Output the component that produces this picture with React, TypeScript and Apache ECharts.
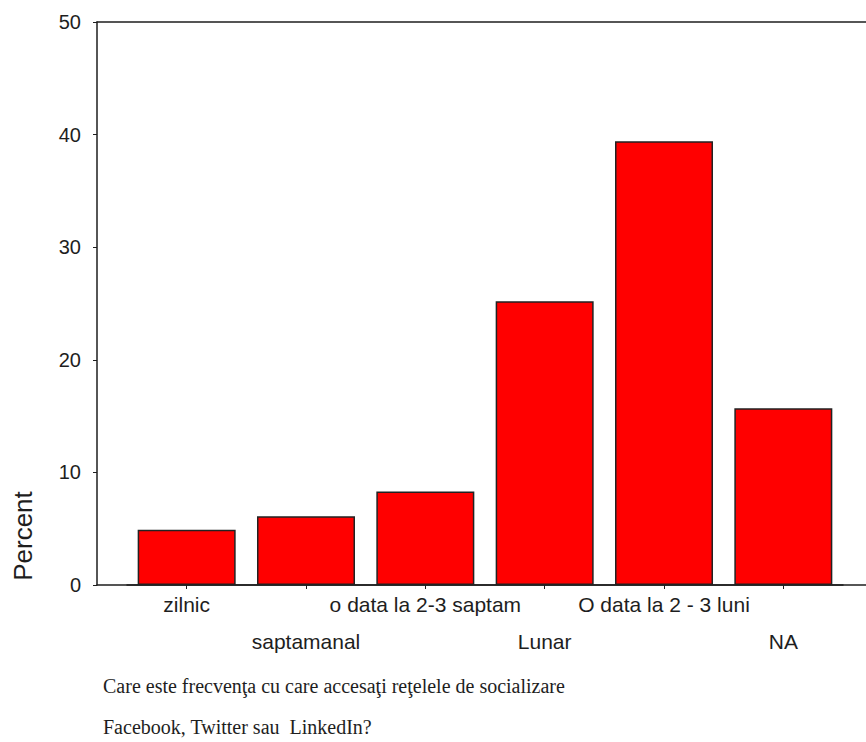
import React, { useEffect, useRef } from "react";
import * as echarts from "echarts";

const categories = [
  "zilnic",
  "saptamanal",
  "o data la 2-3 saptam",
  "Lunar",
  "O data la 2 - 3 luni",
  "NA",
];
const percentValues = [4.9, 6.1, 8.3, 25.2, 39.4, 15.7];
const yTicks = { min: 0, max: 50, interval: 10 };
const yAxisName = "Percent";
const captionLines = [
  "Care este frecvenţa cu care accesaţi reţelele de socializare",
  "Facebook, Twitter sau  LinkedIn?",
];

export default function App() {
  const ref = useRef<HTMLDivElement>(null);

  useEffect(() => {
    if (!ref.current) return;
    const chart = echarts.init(ref.current, null, { renderer: "svg" });
    const ink = "#1e1e1e";
    chart.setOption({
      animation: false,
      backgroundColor: "#ffffff",
      grid: [
        { left: 127, right: 23, top: 22, bottom: 157 },
        { left: 97, right: 0, top: 22, bottom: 157 },
      ],
      xAxis: [
        {
          type: "category",
          gridIndex: 0,
          data: categories,
          axisLine: { show: true, lineStyle: { color: ink, width: 1.5 } },
          axisTick: {
            show: true,
            alignWithLabel: true,
            length: 4,
            lineStyle: { color: ink },
          },
          axisLabel: {
            interval: 0,
            margin: 10,
            fontFamily: "Liberation Sans, Arial, sans-serif",
            fontSize: 21,
            color: ink,
            lineHeight: 18.5,
            formatter: (v: string, i: number) => (i % 2 === 1 ? "\n\n" + v : v),
          },
        },
        {
          type: "value",
          gridIndex: 1,
          position: "bottom",
          min: 0,
          max: 1,
          axisLine: { show: true, lineStyle: { color: ink, width: 1.5 } },
          axisTick: { show: false },
          axisLabel: { show: false },
          splitLine: { show: false },
        },
        {
          type: "value",
          gridIndex: 1,
          position: "top",
          min: 0,
          max: 1,
          axisLine: { show: true, lineStyle: { color: ink, width: 1.5 } },
          axisTick: { show: false },
          axisLabel: { show: false },
          splitLine: { show: false },
        },
      ],
      yAxis: [
        {
          type: "value",
          gridIndex: 0,
          min: yTicks.min,
          max: yTicks.max,
          interval: yTicks.interval,
          offset: 30,
          axisLine: { show: true, lineStyle: { color: ink, width: 1.5 } },
          axisTick: { show: true, length: 4, lineStyle: { color: ink } },
          axisLabel: {
            margin: 16,
            fontFamily: "Liberation Sans, Arial, sans-serif",
            fontSize: 20,
            color: ink,
          },
          splitLine: { show: false },
        },
        {
          type: "value",
          gridIndex: 1,
          show: false,
          min: 0,
          max: 1,
        },
      ],
      series: [
        {
          type: "bar",
          xAxisIndex: 0,
          yAxisIndex: 0,
          data: percentValues,
          barWidth: 98,
          itemStyle: { color: "#ff0000", borderColor: "#222", borderWidth: 1.5 },
        },
      ],
      graphic: [
        {
          type: "text",
          x: 23,
          y: 536,
          rotation: Math.PI / 2,
          style: {
            text: yAxisName,
            fontFamily: "Liberation Sans, Arial, sans-serif",
            fontSize: 26,
            fill: ink,
            align: "center",
            verticalAlign: "middle",
          },
        },
        {
          type: "text",
          x: 103,
          y: 686,
          style: {
            text: captionLines[0],
            fontFamily: "Liberation Serif, Times New Roman, serif",
            fontSize: 20,
            fill: ink,
            align: "left",
            verticalAlign: "middle",
          },
        },
        {
          type: "text",
          x: 103,
          y: 727,
          style: {
            text: captionLines[1],
            fontFamily: "Liberation Serif, Times New Roman, serif",
            fontSize: 20,
            fill: ink,
            align: "left",
            verticalAlign: "middle",
          },
        },
      ],
    });
    return () => chart.dispose();
  }, []);

  return (
    <div
      ref={ref}
      style={{ position: "fixed", left: 0, top: 0, width: 866, height: 742 }}
    />
  );
}
